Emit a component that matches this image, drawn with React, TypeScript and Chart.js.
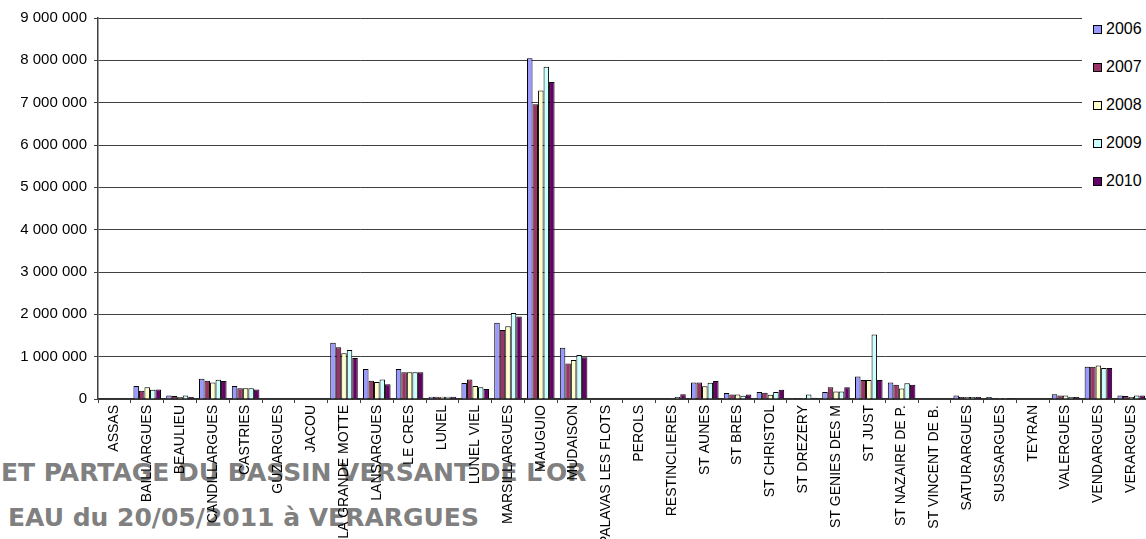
import React, { useEffect, useRef } from 'react';
import { Chart, registerables } from 'chart.js';

Chart.register(...registerables);

const categories = [
  'ASSAS', 'BAILLARGUES', 'BEAULIEU', 'CANDILLARGUES', 'CASTRIES', 'GUZARGUES', 'JACOU',
  'LA GRANDE MOTTE', 'LANSARGUES', 'LE CRES', 'LUNEL', 'LUNEL VIEL', 'MARSILLARGUES',
  'MAUGUIO', 'MUDAISON', 'PALAVAS LES FLOTS', 'PEROLS', 'RESTINCLIERES', 'ST AUNES',
  'ST BRES', 'ST CHRISTOL', 'ST DREZERY', 'ST GENIES DES M', 'ST JUST', 'ST NAZAIRE DE P.',
  'ST VINCENT DE B.', 'SATURARGUES', 'SUSSARGUES', 'TEYRAN', 'VALERGUES', 'VENDARGUES',
  'VERARGUES',
];

const years = ['2006', '2007', '2008', '2009', '2010'];

const values2006 = [0, 310000, 80000, 480000, 310000, 0, 0, 1330000, 710000, 710000, 55000, 380000, 1800000, 8050000, 1210000, 0, 0, 10000, 390000, 140000, 165000, 25000, 165000, 530000, 390000, 0, 80000, 45000, 0, 110000, 760000, 80000];
const values2007 = [0, 195000, 70000, 430000, 255000, 0, 0, 1220000, 430000, 630000, 55000, 460000, 1630000, 6960000, 840000, 0, 0, 10000, 390000, 105000, 145000, 25000, 275000, 450000, 335000, 0, 50000, 25000, 0, 80000, 760000, 70000];
const values2008 = [0, 280000, 50000, 390000, 255000, 0, 0, 1080000, 400000, 630000, 55000, 310000, 1720000, 7290000, 920000, 0, 0, 20000, 300000, 105000, 100000, 25000, 180000, 450000, 250000, 0, 50000, 25000, 0, 80000, 790000, 45000];
const values2009 = [0, 220000, 85000, 455000, 255000, 0, 0, 1160000, 460000, 630000, 55000, 280000, 2030000, 7850000, 1040000, 0, 0, 45000, 385000, 75000, 165000, 105000, 180000, 1525000, 375000, 0, 50000, 25000, 0, 50000, 735000, 80000];
const values2010 = [0, 225000, 50000, 425000, 225000, 0, 0, 970000, 350000, 630000, 55000, 235000, 1950000, 7490000, 985000, 0, 0, 115000, 425000, 105000, 220000, 30000, 275000, 450000, 335000, 0, 50000, 25000, 0, 50000, 735000, 80000];

const series = [values2006, values2007, values2008, values2009, values2010];
const colors = ['#9999FF', '#993366', '#FFFFCC', '#CCFFFF', '#660066'];

const titleLine1 = 'ET PARTAGE DU BASSIN VERSANT DE L\u2019OR';
const titleLine2 = 'EAU du 20/05/2011 \u00e0 VERARGUES';

const fmt = (v: number | string) =>
  String(v).replace(/\B(?=(\d{3})+(?!\d))/g, ' ');

const FONT = '"Liberation Sans", Arial, sans-serif';

export default function App() {
  const ref = useRef<HTMLCanvasElement>(null);

  useEffect(() => {
    if (!ref.current) return;
    const chart = new Chart(ref.current, {
      type: 'bar',
      data: {
        labels: categories,
        datasets: series.map((d, i) => ({
          label: years[i],
          data: d,
          backgroundColor: colors[i],
          borderColor: '#000',
          borderWidth: 1,
          barPercentage: 1,
          categoryPercentage: 0.84,
        })),
      },
      options: {
        responsive: false,
        maintainAspectRatio: false,
        animation: false,
        layout: { padding: { top: 18, right: 0, left: 0, bottom: 0 } },
        plugins: {
          legend: { display: false },
          tooltip: { enabled: false },
        },
        scales: {
          x: {
            grid: {
              display: true,
              drawOnChartArea: false,
              drawTicks: true,
              tickLength: 4,
              offset: true,
              color: '#404040',
            },
            border: { color: '#303030', width: 1.5 },
            ticks: {
              autoSkip: false,
              maxRotation: 90,
              minRotation: 90,
              padding: 2,
              color: '#000',
              font: { family: FONT, size: 14 },
            },
            afterFit: (s: any) => {
              s.height = 140;
            },
          },
          y: {
            min: 0,
            max: 9000000,
            ticks: {
              stepSize: 1000000,
              callback: (v: any) => fmt(v),
              padding: 7,
              color: '#000',
              font: { family: FONT, size: 15 },
            },
            grid: { color: '#404040', tickLength: 4 },
            border: { color: '#404040', width: 1.5 },
            afterFit: (s: any) => {
              s.width = 98;
            },
          },
        },
      },
    });
    return () => chart.destroy();
  }, []);

  const legendTops = [29, 67, 105, 143, 181];

  return (
    <div
      style={{
        position: 'fixed',
        left: 0,
        top: 0,
        width: 1146,
        height: 539,
        overflow: 'hidden',
        background: '#fff',
      }}
    >
      <div
        style={{
          position: 'absolute',
          left: 1,
          top: 450,
          fontFamily: '"DejaVu Sans", Verdana, sans-serif',
          fontWeight: 'bold',
          fontSize: 25,
          lineHeight: '45px',
          color: '#808080',
          whiteSpace: 'nowrap',
        }}
      >
        <div>{titleLine1}</div>
        <div style={{ paddingLeft: 7 }}>{titleLine2}</div>
      </div>
      <canvas
        ref={ref}
        width={1150}
        height={539}
        style={{ position: 'absolute', left: 0, top: 0, width: 1150, height: 539 }}
      />
      <div
        style={{
          position: 'absolute',
          left: 1082,
          top: 6,
          width: 64,
          height: 206,
          background: '#fff',
        }}
      >
        {years.map((y, i) => (
          <div
            key={y}
            style={{
              position: 'absolute',
              left: 0,
              top: legendTops[i] - 6 - 10,
              height: 20,
              display: 'flex',
              alignItems: 'center',
              fontFamily: FONT,
              fontSize: 16,
              color: '#000',
              whiteSpace: 'nowrap',
            }}
          >
            <span
              style={{
                display: 'inline-block',
                width: 7,
                height: 7,
                marginLeft: 11,
                marginRight: 4,
                border: '1px solid #000',
                background: colors[i],
              }}
            />
            <span>{y}</span>
          </div>
        ))}
      </div>
    </div>
  );
}
